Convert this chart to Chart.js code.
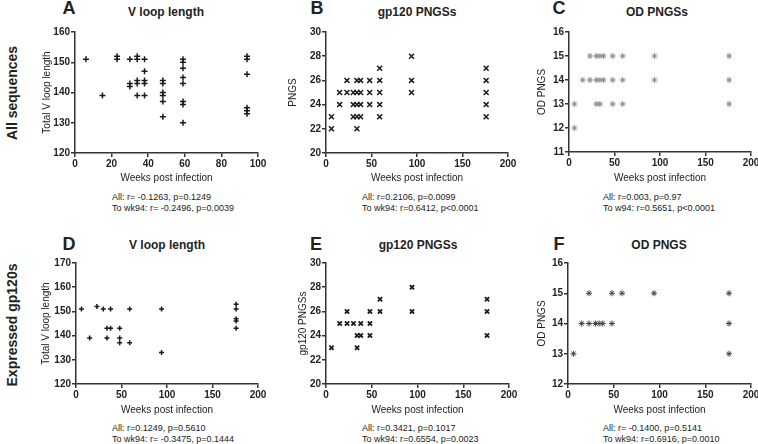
<!DOCTYPE html>
<html>
<head>
<meta charset="utf-8">
<script src="https://cdn.jsdelivr.net/npm/chart.js@4"></script>
<style>
  html, body { margin: 0; padding: 0; background: #fff; }
  body { width: 758px; height: 444px; position: relative; overflow: hidden;
         font-family: 'Liberation Sans', Arial, sans-serif; color: #222; }
  canvas { position: absolute; }
  .lbl { position: absolute; white-space: nowrap; }
  .letter { font-size: 18px; font-weight: bold; transform: translate(-50%, -50%); }
  .title { font-size: 12px; font-weight: bold; transform: translate(-50%, -50%); }
  .stats { font-size: 9px; line-height: 11px; }
  .row { font-size: 14px; font-weight: bold; transform: translate(-50%, -50%) rotate(-90deg); }
</style>
</head>
<body>

<div class="lbl row" style="left:12px; top:93px;">All sequences</div>
<div class="lbl row" style="left:12px; top:325px;">Expressed gp120s</div>

<div class="lbl letter" style="left:69px; top:8px;">A</div>
<div class="lbl title" style="left:166px; top:12px;">V loop length</div>
<div class="lbl letter" style="left:317px; top:8px;">B</div>
<div class="lbl title" style="left:417px; top:12px;">gp120 PNGSs</div>
<div class="lbl letter" style="left:559px; top:8px;">C</div>
<div class="lbl title" style="left:657px; top:12px;">OD PNGSs</div>

<div class="lbl letter" style="left:69px; top:244px;">D</div>
<div class="lbl title" style="left:167px; top:245px;">V loop length</div>
<div class="lbl letter" style="left:316px; top:244px;">E</div>
<div class="lbl title" style="left:418px; top:245px;">gp120 PNGSs</div>
<div class="lbl letter" style="left:559px; top:244px;">F</div>
<div class="lbl title" style="left:659px; top:245px;">OD PNGS</div>

<div class="lbl stats" style="left:112px; top:192px;">All: r= -0.1263, p=0.1249<br>To wk94: r= -0.2496, p=0.0039</div>
<div class="lbl stats" style="left:362px; top:192px;">All: r=0.2106, p=0.0099<br>To wk94: r=0.6412, p&lt;0.0001</div>
<div class="lbl stats" style="left:603px; top:192px;">All: r=0.003, p=0.97<br>To w94: r=0.5651, p&lt;0.0001</div>
<div class="lbl stats" style="left:112px; top:423px;">All: r=0.1249, p=0.5610<br>To wk94: r= -0.3475, p=0.1444</div>
<div class="lbl stats" style="left:362px; top:423px;">All: r=0.3421, p=0.1017<br>To wk94: r=0.6554, p=0.0023</div>
<div class="lbl stats" style="left:603px; top:423px;">All: r= -0.1400, p=0.5141<br>To wk94: r=0.6916, p=0.0010</div>

<canvas id="chartA"></canvas>
<canvas id="chartB"></canvas>
<canvas id="chartC"></canvas>
<canvas id="chartD"></canvas>
<canvas id="chartE"></canvas>
<canvas id="chartF"></canvas>

<script>
// A: all sequences, V loop length (weeks 0-100)
const aWeeks = [6, 15, 23, 23, 30, 30, 30, 34, 34, 34, 34, 34, 38, 38, 38, 38, 38,
                48, 48, 48, 48, 48, 48, 59, 59, 59, 59, 59, 59, 59, 59, 94, 94, 94, 94, 94, 94];
const aVloop = [151, 139, 152, 151, 151, 143, 142, 152, 151, 144, 143, 139, 151, 147, 144, 143, 139,
                144, 143, 140, 139, 137, 132, 151, 150, 148, 145, 143, 137, 136, 130, 152, 151, 146, 135, 134, 133];

// B: all sequences, gp120 PNGS
const bWeeks = [6, 6, 15, 15, 23, 23, 30, 30, 30, 34, 34, 34, 34, 34, 38, 38, 38, 38,
                48, 48, 48, 59, 59, 59, 59, 59, 94, 94, 94, 176, 176, 176, 176, 176];
const bPngs  = [23, 22, 25, 24, 26, 25, 25, 24, 23, 26, 25, 24, 23, 22, 26, 25, 24, 23,
                26, 25, 24, 27, 26, 25, 24, 23, 28, 26, 25, 27, 26, 25, 24, 23];

// C: all sequences, OD PNGS
const cWeeks = [23, 30, 34, 38, 48, 59, 94, 176,
                15, 23, 30, 34, 38, 48, 59, 94, 176,
                6, 30, 34, 48, 59, 176,
                6];
const cPngs  = [15, 15, 15, 15, 15, 15, 15, 15,
                14, 14, 14, 14, 14, 14, 14, 14, 14,
                13, 13, 13, 13, 13, 13,
                12];

// D: expressed gp120s, V loop length
const dWeeks = [6, 15, 23, 30, 34, 34, 38, 38, 48, 48, 48, 59, 59, 94, 94, 176, 176, 176, 176, 176];
const dVloop = [151, 139, 152, 151, 143, 139, 151, 143, 143, 139, 137, 151, 137, 151, 133, 153, 151, 147, 146, 143];

// E: expressed gp120s, gp120 PNGS
const eWeeks = [6, 15, 23, 23, 30, 34, 34, 38, 38, 48, 48, 48, 59, 59, 94, 94, 176, 176, 176];
const ePngs  = [23, 25, 26, 25, 25, 24, 23, 25, 24, 26, 25, 24, 27, 26, 28, 26, 27, 26, 24];

// F: expressed gp120s, OD PNGS
const fWeeks = [6, 15, 23, 23, 30, 34, 38, 48, 48, 59, 94, 176, 176, 176];
const fPngs  = [13, 14, 15, 14, 14, 14, 14, 15, 14, 15, 15, 15, 14, 13];

const axisColor = '#333';
const fontFamily = "'Liberation Sans', Arial, sans-serif";

function toPoints(xs, ys) {
    return xs.map((x, i) => ({ x: x, y: ys[i] }));
}

// place a canvas so that its plot area lands on the given box
function makePanel(id, box, xAxis, yAxis, points, marker) {
    const canvas = document.getElementById(id);
    const w = box.right - box.canvasLeft;
    const h = box.canvasBottom - box.canvasTop;
    canvas.width = w;
    canvas.height = h;
    canvas.style.left = box.canvasLeft + 'px';
    canvas.style.top = box.canvasTop + 'px';
    canvas.style.width = w + 'px';
    canvas.style.height = h + 'px';

    const tickFont = { family: fontFamily, size: 10, weight: 'bold' };
    const titleFont = { family: fontFamily, size: 10 };
    const gridOpts = { drawOnChartArea: false, drawTicks: true, tickLength: 4, color: axisColor, lineWidth: 1.5 };
    const borderOpts = { display: true, color: axisColor, width: 1.5 };

    return new Chart(canvas.getContext('2d'), {
        type: 'scatter',
        data: {
            datasets: [{
                data: points,
                pointStyle: marker.style,
                pointRadius: marker.radius,
                pointHoverRadius: marker.radius,
                borderColor: marker.color,
                backgroundColor: marker.color,
                pointBorderWidth: marker.width
            }]
        },
        options: {
            responsive: false,
            animation: false,
            events: [],
            layout: {
                padding: { left: 0, bottom: 0, top: box.plotTop - box.canvasTop, right: box.right - box.plotRight }
            },
            plugins: { legend: { display: false }, tooltip: { enabled: false } },
            scales: {
                x: {
                    type: 'linear',
                    min: xAxis.min, max: xAxis.max,
                    ticks: { stepSize: xAxis.step, font: tickFont, color: '#222', padding: 1, maxRotation: 0 },
                    grid: gridOpts,
                    border: borderOpts,
                    title: { display: true, text: 'Weeks post infection', font: titleFont, color: '#222', padding: 0 },
                    afterFit: function(scale) { scale.height = box.canvasBottom - box.plotBottom; }
                },
                y: {
                    type: 'linear',
                    min: yAxis.min, max: yAxis.max,
                    ticks: { stepSize: yAxis.step, font: tickFont, color: '#222', padding: 1 },
                    grid: gridOpts,
                    border: borderOpts,
                    title: { display: true, text: yAxis.title, font: titleFont, color: '#222', padding: 0 },
                    afterFit: function(scale) { scale.width = box.plotLeft - box.canvasLeft; }
                }
            }
        }
    });
}

const plusMark = { style: 'cross', radius: 3, width: 1.5, color: '#1a1a1a' };
const xMark = { style: 'crossRot', radius: 3.5, width: 1.5, color: '#1a1a1a' };

makePanel('chartA',
    { canvasLeft: 41, canvasTop: 24, canvasBottom: 184, right: 270, plotLeft: 75, plotRight: 258, plotTop: 32, plotBottom: 153 },
    { min: 0, max: 100, step: 20 },
    { min: 120, max: 160, step: 10, title: 'Total V loop length' },
    toPoints(aWeeks, aVloop), plusMark);

makePanel('chartB',
    { canvasLeft: 287, canvasTop: 24, canvasBottom: 184, right: 522, plotLeft: 326, plotRight: 508, plotTop: 32, plotBottom: 153 },
    { min: 0, max: 200, step: 50 },
    { min: 20, max: 30, step: 2, title: 'PNGS' },
    toPoints(bWeeks, bPngs), xMark);

makePanel('chartC',
    { canvasLeft: 536, canvasTop: 24, canvasBottom: 184, right: 765, plotLeft: 569, plotRight: 751, plotTop: 32, plotBottom: 152 },
    { min: 0, max: 200, step: 50 },
    { min: 11, max: 16, step: 1, title: 'OD PNGS' },
    toPoints(cWeeks, cPngs), { style: 'star', radius: 3, width: 1, color: '#8a8a8a' });

makePanel('chartD',
    { canvasLeft: 40, canvasTop: 255, canvasBottom: 416, right: 270, plotLeft: 76, plotRight: 258, plotTop: 263, plotBottom: 384 },
    { min: 0, max: 200, step: 50 },
    { min: 120, max: 170, step: 10, title: 'Total V loop length' },
    toPoints(dWeeks, dVloop), { style: 'cross', radius: 2.5, width: 1.5, color: '#1a1a1a' });

makePanel('chartE',
    { canvasLeft: 297, canvasTop: 255, canvasBottom: 416, right: 522, plotLeft: 326, plotRight: 509, plotTop: 263, plotBottom: 384 },
    { min: 0, max: 200, step: 50 },
    { min: 20, max: 30, step: 2, title: 'gp120 PNGSs' },
    toPoints(eWeeks, ePngs), { style: 'crossRot', radius: 3, width: 1.8, color: '#1a1a1a' });

makePanel('chartF',
    { canvasLeft: 536, canvasTop: 255, canvasBottom: 416, right: 765, plotLeft: 568, plotRight: 751, plotTop: 263, plotBottom: 384 },
    { min: 0, max: 200, step: 50 },
    { min: 12, max: 16, step: 1, title: 'OD PNGS' },
    toPoints(fWeeks, fPngs), { style: 'star', radius: 3, width: 1, color: '#444' });
</script>
</body>
</html>
